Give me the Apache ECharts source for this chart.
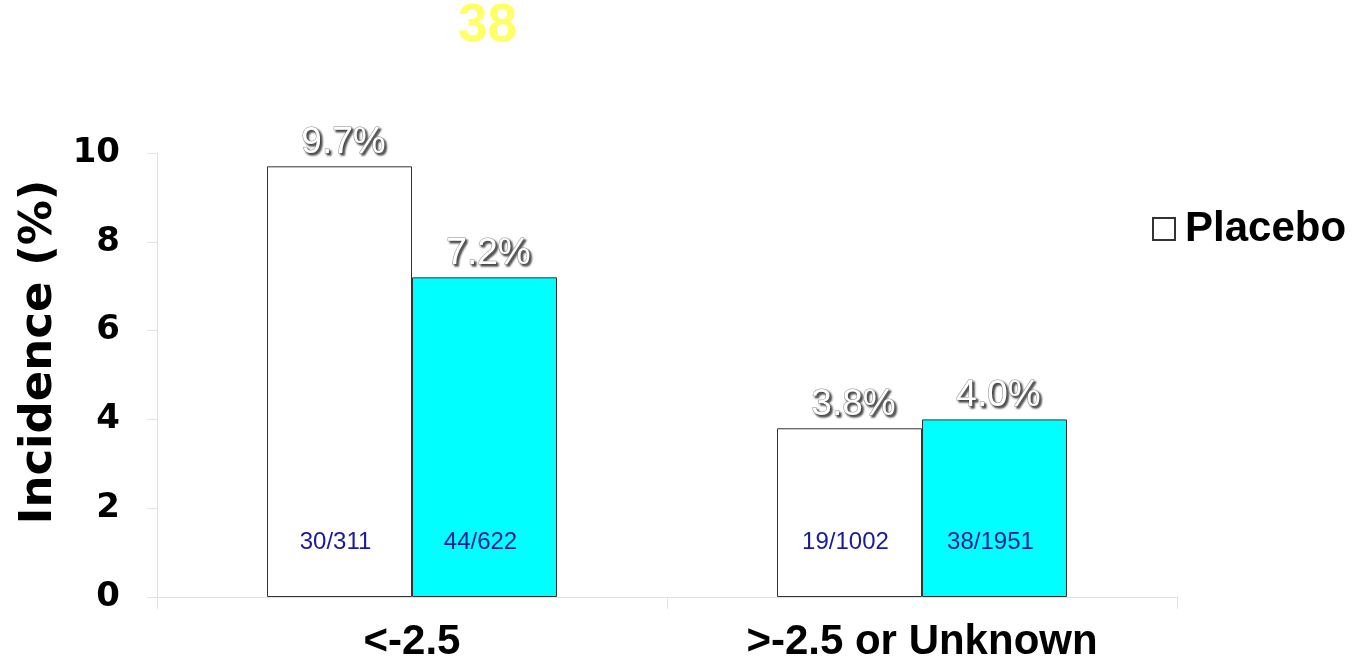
<!DOCTYPE html>
<html>
<head>
<meta charset="utf-8">
<script src="https://cdn.jsdelivr.net/npm/echarts@6/dist/echarts.min.js"></script>
<style>
  html, body { margin: 0; padding: 0; background: #fff; }
  #chart { width: 1352px; height: 667px; }
</style>
</head>
<body>
<div id="chart"></div>
<script>
// Incidence by baseline score group
const categories = ['<-2.5', '>-2.5 or Unknown'];
const seriesNames = ['Placebo', 'Active'];
const placeboValues = [9.7, 3.8];
const activeValues = [7.2, 4.0];
const placeboCounts = ['30/311', '19/1002'];
const activeCounts = ['44/622', '38/1951'];
const yTicks = [0, 2, 4, 6, 8, 10];

// height (in axis units) where the n/N labels sit inside each bar
const COUNT_LABEL_LEVEL = 1.22;

const chart = echarts.init(document.getElementById('chart'));

const valueLabel = {
  show: true,
  position: 'top',
  distance: 5,
  offset: [4, 0],
  formatter: p => p.value.toFixed(1) + '%',
  fontFamily: 'Liberation Sans, Arial, sans-serif',
  fontSize: 37,
  color: '#ffffff',
  textBorderColor: '#8a8a8a',
  textBorderWidth: 1,
  textShadowColor: 'rgba(40,40,40,0.85)',
  textShadowBlur: 2,
  textShadowOffsetX: 2,
  textShadowOffsetY: 2
};

function countMarks(counts) {
  return {
    symbol: 'circle',
    symbolSize: 1,
    itemStyle: { color: 'rgba(0,0,0,0)' },
    label: {
      show: true,
      position: 'inside',
      offset: [-4, 0],
      formatter: p => p.name,
      fontFamily: 'Liberation Sans, Arial, sans-serif',
      fontSize: 24,
      color: '#1a1a9c'
    },
    data: counts.map((c, i) => ({ name: c, coord: [i, COUNT_LABEL_LEVEL] }))
  };
}

chart.setOption({
  animation: false,
  backgroundColor: '#ffffff',
  title: {
    text: '38',
    left: 458,
    top: 0,
    padding: 0,
    textStyle: {
      fontFamily: 'Liberation Sans, Arial, sans-serif',
      fontWeight: 'bold',
      fontSize: 53,
      color: '#ffff66'
    }
  },
  legend: {
    data: [seriesNames[0]],
    left: 1152,
    top: 208,
    padding: 0,
    itemWidth: 22,
    itemHeight: 22,
    icon: 'rect',
    textStyle: {
      fontFamily: 'Liberation Sans, Arial, sans-serif',
      fontWeight: 'bold',
      fontSize: 42,
      color: '#000',
      padding: [0, 0, 0, 5]
    }
  },
  grid: { left: 157, right: 175, top: 153, bottom: 70, containLabel: false },
  xAxis: {
    type: 'category',
    data: categories,
    axisLine: { show: true, lineStyle: { color: '#e2e2e2', width: 1 } },
    axisTick: { show: true, alignWithLabel: false, length: 12, lineStyle: { color: '#e2e2e2' } },
    axisLabel: {
      margin: 24,
      fontFamily: 'Liberation Sans, Arial, sans-serif',
      fontWeight: 'bold',
      fontSize: 42,
      color: '#000'
    }
  },
  yAxis: {
    type: 'value',
    min: yTicks[0],
    max: yTicks[yTicks.length - 1],
    interval: 2,
    name: 'Incidence (%)',
    nameLocation: 'middle',
    nameGap: 90,
    nameRotate: 90,
    nameTextStyle: {
      fontFamily: 'DejaVu Sans, sans-serif',
      fontWeight: 'bold',
      fontSize: 45,
      color: '#000',
      padding: [0, 0, 0, 46]
    },
    splitLine: { show: false },
    axisLine: { show: true, lineStyle: { color: '#e2e2e2', width: 1 } },
    axisTick: { show: true, length: 10, lineStyle: { color: '#e2e2e2' } },
    axisLabel: {
      margin: 37,
      fontFamily: 'DejaVu Sans, sans-serif',
      fontWeight: 'bold',
      fontSize: 34,
      color: '#000'
    }
  },
  series: [
    {
      name: seriesNames[0],
      type: 'bar',
      data: placeboValues,
      barWidth: 145,
      barGap: '0%',
      itemStyle: { color: '#ffffff', borderColor: '#333', borderWidth: 1 },
      label: valueLabel,
      markPoint: countMarks(placeboCounts)
    },
    {
      name: seriesNames[1],
      type: 'bar',
      data: activeValues,
      barWidth: 145,
      barGap: '0%',
      itemStyle: { color: '#00ffff', borderColor: '#333', borderWidth: 1 },
      label: valueLabel,
      markPoint: countMarks(activeCounts)
    }
  ]
});
</script>
</body>
</html>
